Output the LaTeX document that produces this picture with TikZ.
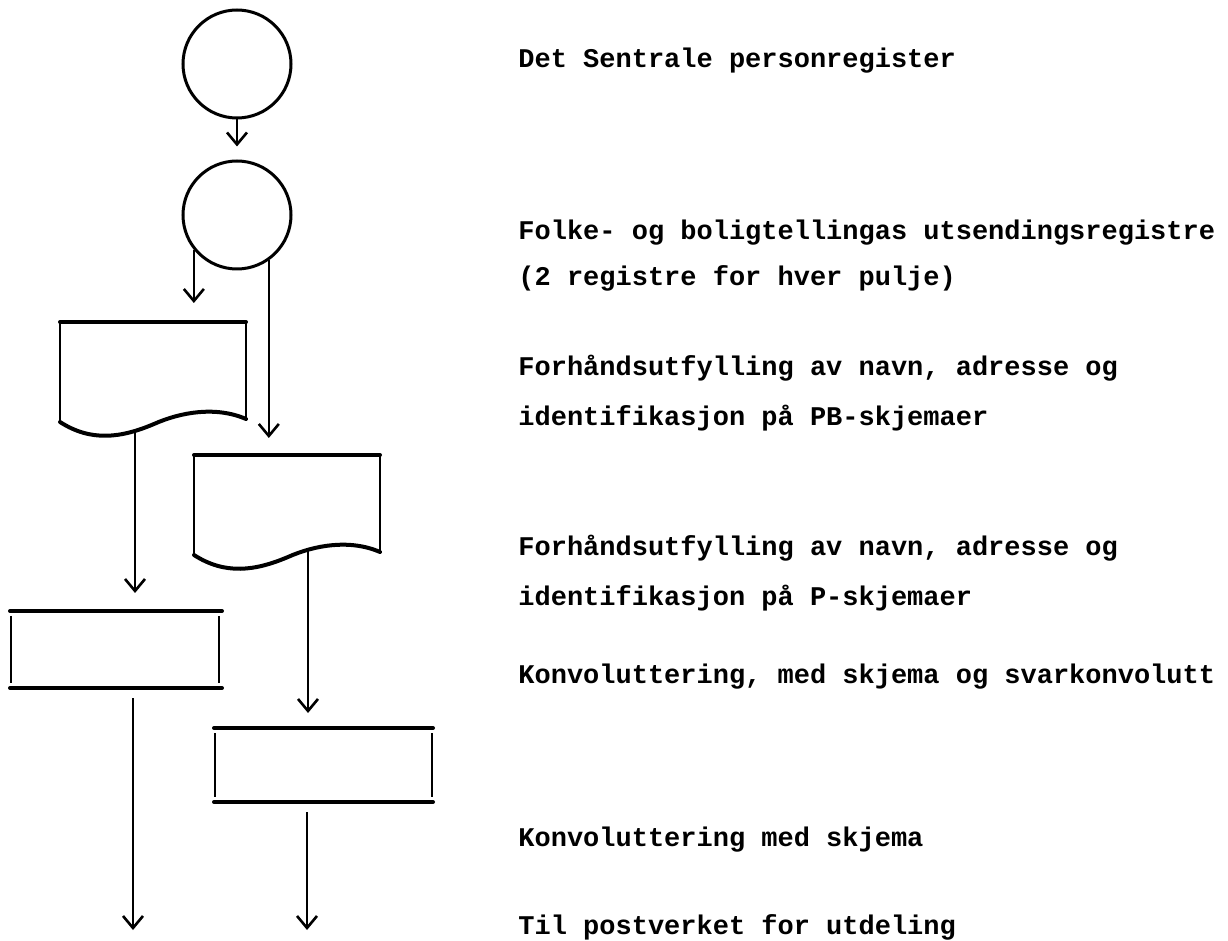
\documentclass[tikz,border=0pt]{standalone}
\usepackage{fontspec}
\setmonofont{Liberation Mono}
\usetikzlibrary{calc,arrows.meta}
\def\drawflow{\draw[line width=0.7pt,-{Straight Barb[length=6pt,width=10pt,line width=1.3pt]}]}
\def\drawedge{\draw[line width=2pt,line cap=round]}
\def\drawside{\draw[line width=0.7pt]}
\def\regnode{\node[circle,draw=black,line width=1.5pt,inner sep=0pt,minimum size=54pt]}
\def\boxnode{\node[inner sep=0pt,outer sep=0pt]}
\def\textnode{\node[anchor=base west,inner sep=0pt,font=\ttfamily\bfseries\fontsize{13.5pt}{16pt}\selectfont]}

\begin{document}
\begin{tikzpicture}[x=0.5pt,y=-0.5pt]
\useasboundingbox (0,0) rectangle (1228,941);
\regnode (reg1) at (237,64) {};
\regnode (reg2) at (237,215) {};
\boxnode (doc1) [minimum width=93pt,minimum height=50pt] at (153,372) {};
\boxnode (doc2) [minimum width=93pt,minimum height=50pt] at (287,505) {};
\boxnode (box1) [minimum width=106pt,minimum height=38.5pt] at (116,649.5) {};
\boxnode (box2) [minimum width=109.5pt,minimum height=37pt] at (323.5,765) {};
% printed forms
\begin{scope}[shift={(doc1.south west)}]
\drawedge (0,-100) -- (186,-100);
\drawside (0,-100) -- (0,0);
\drawside (186,-100) -- (186,-3);
\drawedge (0,0) .. controls (31,20) and (61,16) .. (94,2) .. controls (121,-10) and (156,-16) .. (186,-3);
\end{scope}
\begin{scope}[shift={(doc2.south west)}]
\drawedge (0,-100) -- (186,-100);
\drawside (0,-100) -- (0,0);
\drawside (186,-100) -- (186,-3);
\drawedge (0,0) .. controls (31,20) and (61,16) .. (94,2) .. controls (121,-10) and (156,-16) .. (186,-3);
\end{scope}
% envelope machines
\drawedge (box1.north west) -- (box1.north east);
\drawedge (box1.south west) -- (box1.south east);
\drawside ($(box1.north west)+(1,5)$) -- ($(box1.south west)+(1,-5)$);
\drawside ($(box1.north east)+(-3,5)$) -- ($(box1.south east)+(-3,-5)$);
\drawedge (box2.north west) -- (box2.north east);
\drawedge (box2.south west) -- (box2.south east);
\drawside ($(box2.north west)+(1,5)$) -- ($(box2.south west)+(1,-5)$);
\drawside ($(box2.north east)+(-1,5)$) -- ($(box2.south east)+(-1,-5)$);
% flow
\coordinate (d1out) at ($(doc1.south west)+(75,9)$);
\coordinate (d2out) at ($(doc2.south west)+(114,-5)$);
\coordinate (end1) at (133,930);
\coordinate (end2) at (307,930);
\drawflow[shorten >=6.5pt] (reg1) -- (reg2);
\drawflow[shorten >=9.5pt] (reg2.219) -- (reg2.219 |- doc1.north);
\drawflow[shorten >=8.5pt] (reg2.305) -- (reg2.305 |- doc2.north);
\drawflow[shorten >=9pt] (d1out) -- (d1out |- box1.north);
\drawflow[shorten >=7.5pt] (d2out) -- (d2out |- box2.north);
\drawflow[shorten <=5pt] (box1.south -| end1) -- (end1);
\drawflow[shorten <=5pt] (box2.south -| end2) -- (end2);
% texts
\textnode (t1) at (518,68) {Det Sentrale personregister};
\textnode (t2) at (518,240) {Folke- og boligtellingas utsendingsregistre};
\textnode (t3) at (518,286) {(2 registre for hver pulje)};
\textnode (t4) at (518,376) {Forhåndsutfylling av navn, adresse og};
\textnode (t5) at (518,426) {identifikasjon på PB-skjemaer};
\textnode (t6) at (518,556) {Forhåndsutfylling av navn, adresse og};
\textnode (t7) at (518,605) {identifikasjon på P-skjemaer};
\textnode (t8) at (518,683) {Konvoluttering, med skjema og svarkonvolutt};
\textnode (t9) at (518,846) {Konvoluttering med skjema};
\textnode (t10) at (518,934) {Til postverket for utdeling};
\end{tikzpicture}
\end{document}
